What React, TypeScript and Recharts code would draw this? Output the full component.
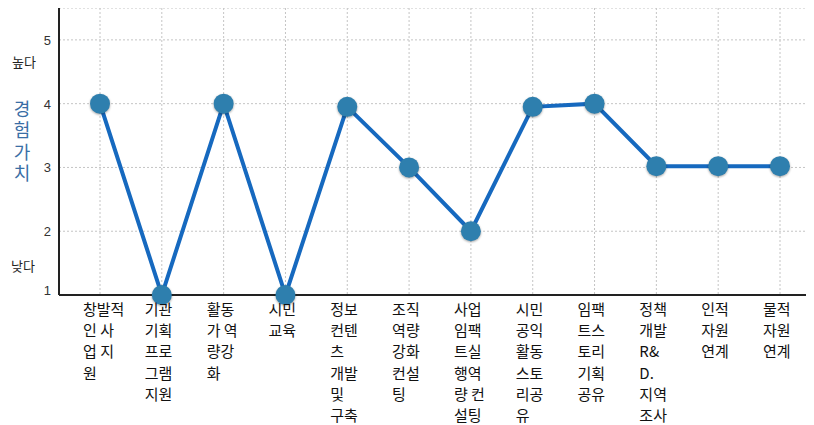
import React from 'react'
import { LineChart, Line, XAxis, YAxis, CartesianGrid } from 'recharts'

// 카테고리 (줄바꿈은 원본 그림 그대로)
const categories = [
    '창발적\n인 사\n업 지\n원',
    '기관\n기획\n프로\n그램\n지원',
    '활동\n가 역\n량강\n화',
    '시민\n교육',
    '정보\n컨텐\n츠\n개발\n및\n구축',
    '조직\n역량\n강화\n컨설\n팅',
    '사업\n임팩\n트실\n행역\n량 컨\n설팅',
    '시민\n공익\n활동\n스토\n리공\n유',
    '임팩\n트스\n토리\n기획\n공유',
    '정책\n개발\nR&\nD.\n지역\n조사',
    '인적\n자원\n연계',
    '물적\n자원\n연계'
]

const values = [4.0, 1.0, 4.0, 1.0, 3.95, 3.0, 2.0, 3.95, 4.0, 3.02, 3.02, 3.02]

const yTicks = [1, 2, 3, 4, 5]

const data = categories.map((name, i) => ({ name, value: values[i] }))

const labelFont = '"Noto Sans CJK KR", "Noto Sans", sans-serif'

const XTick = (props: any) => {
    const { x, y, payload } = props
    const lines = String(payload.value).split('\n')
    return (
        <text x={x - 17} y={y + 20} textAnchor="start" fontSize={15} fill="#111" fontFamily={labelFont}>
            {lines.map((l, i) => (
                <tspan key={i} x={x - 17} dy={i === 0 ? 0 : 21.2}>{l}</tspan>
            ))}
        </text>
    )
}

const YTick = (props: any) => {
    const { x, y, payload } = props
    // 바닥의 "1"은 축선 위로 살짝 올림
    const shift = payload.value === 1 ? -5 : 0
    return (
        <text x={x} y={y + shift} dy={5} textAnchor="end" fontSize={13} fill="#333" fontFamily="'Liberation Sans', Arial, sans-serif">
            {payload.value}
        </text>
    )
}

const side: React.CSSProperties = {
    position: 'absolute',
    fontFamily: labelFont,
    fontSize: 13,
    color: '#222',
    lineHeight: '16px'
}

const App = () => {
    return (
        <div style={{ position: 'relative', width: 806, height: 417 }}>
            <LineChart
                width={806}
                height={417}
                data={data}
                margin={{ top: 0, right: 0, left: 0, bottom: 0 }}
            >
                <CartesianGrid stroke="#c4c4c4" strokeDasharray="2 2" />
                <XAxis
                    dataKey="name"
                    interval={0}
                    height={130}
                    padding={{ left: 41, right: 34 }}
                    tick={<XTick />}
                    tickLine={false}
                    tickSize={0}
                    tickMargin={0}
                    axisLine={{ stroke: '#222', strokeWidth: 2 }}
                />
                <YAxis
                    domain={[1, 5.5]}
                    ticks={yTicks}
                    width={51}
                    tick={<YTick />}
                    tickLine={false}
                    tickSize={0}
                    tickMargin={8}
                    axisLine={{ stroke: '#222', strokeWidth: 2 }}
                />
                <Line
                    type="linear"
                    dataKey="value"
                    stroke="#1669bf"
                    strokeWidth={4}
                    dot={{ r: 10, fill: '#2e7fae', stroke: 'none', style: { filter: 'drop-shadow(0px 1px 1px rgba(0,0,0,0.35))' } }}
                    activeDot={false}
                    isAnimationActive={false}
                />
            </LineChart>
            <div style={{ ...side, left: 4, top: 46 }}>높다</div>
            <div style={{ ...side, left: 3, top: 250 }}>낮다</div>
            <div
                style={{
                    ...side,
                    left: 3,
                    top: 92,
                    fontSize: 18,
                    lineHeight: '22px',
                    letterSpacing: 3.5,
                    color: '#3a6ea5',
                    writingMode: 'vertical-rl',
                    textOrientation: 'upright'
                }}
            >
                경험가치
            </div>
        </div>
    )
}

export default App
